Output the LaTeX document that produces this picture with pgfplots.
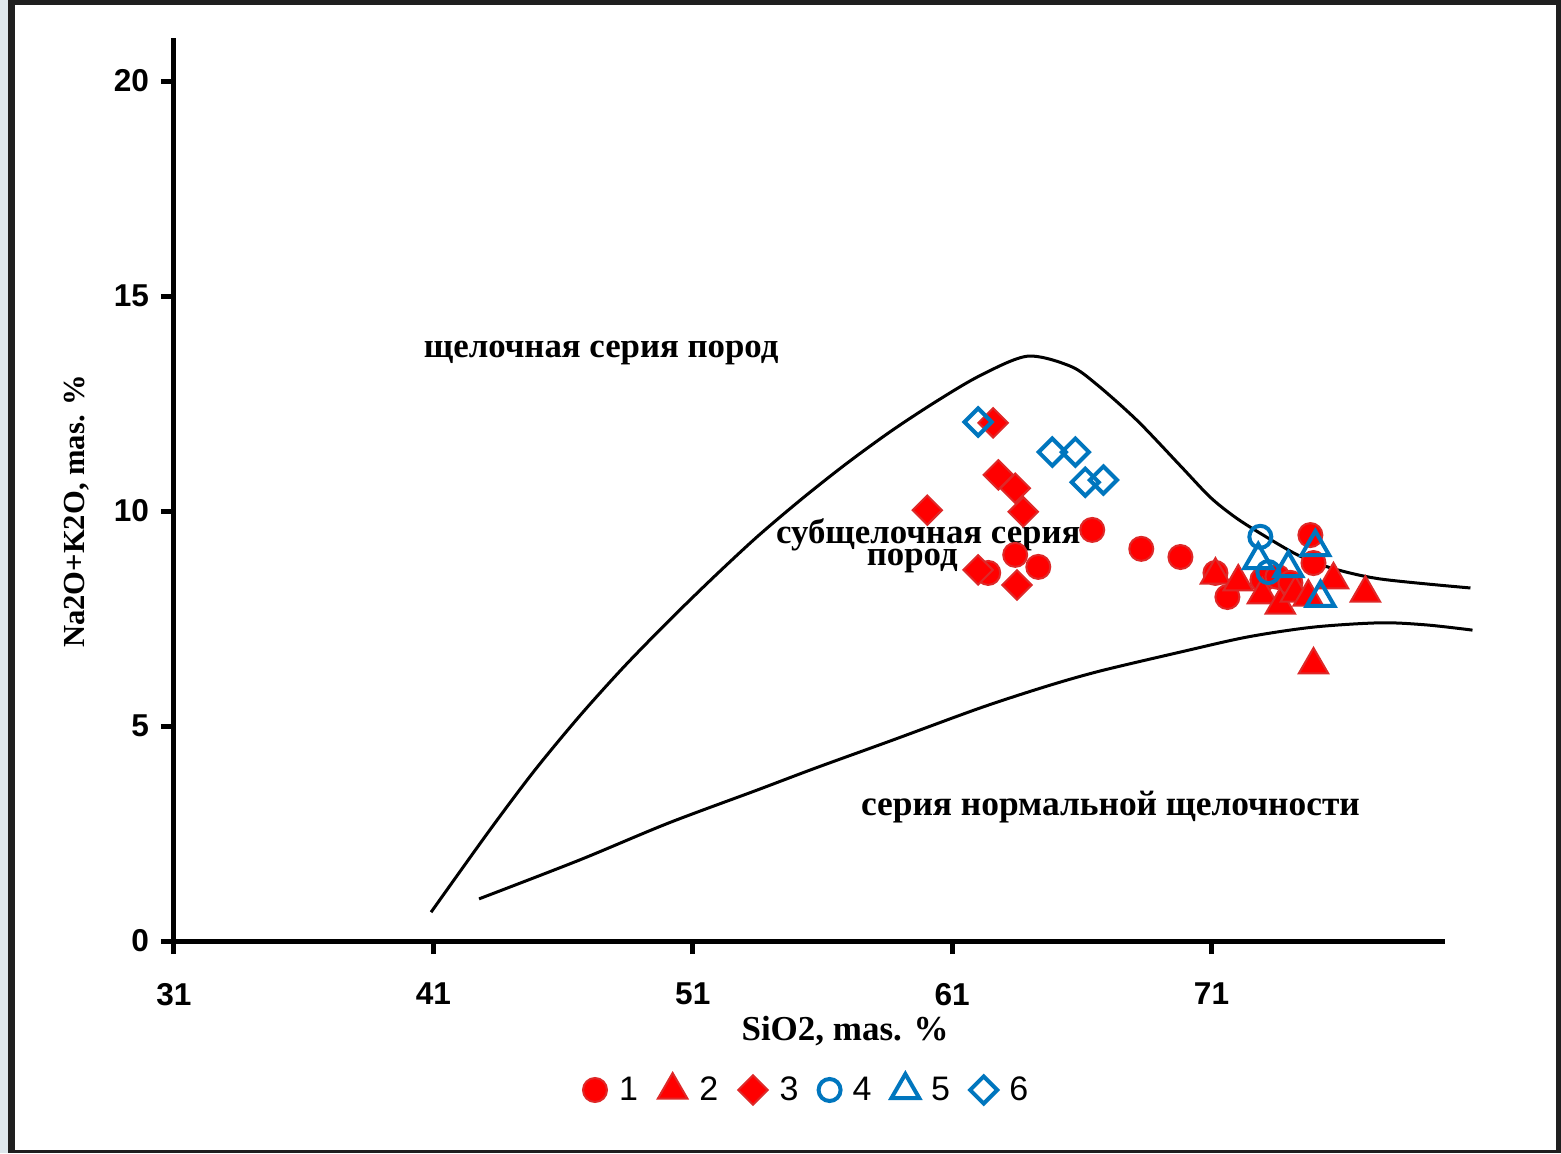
\documentclass[border=0pt]{standalone}
\usepackage{fontspec}
\setmainfont{Liberation Serif}
\setsansfont{Liberation Sans}
\usepackage{pgfplots}
\pgfplotsset{compat=1.18}
\definecolor{myred}{RGB}{255,0,0}
\definecolor{myredE}{RGB}{222,40,40}
\definecolor{myblue}{RGB}{0,118,190}
\definecolor{bgside}{RGB}{222,231,236}
\newcommand\tightlines{\lineskiplimit-30pt\relax}
\begin{document}
\begin{tikzpicture}
\path[use as bounding box] (-87pt,-106pt) rectangle (693.5pt,470.5pt);
\fill[bgside] (-87pt,-106pt) rectangle (693.5pt,470.5pt);
\fill[black!88] (-83pt,-106pt) rectangle (693.5pt,470.5pt);
\fill[white] (-79.5pt,-104.5pt) rectangle (691pt,468pt);
\begin{axis}[
  at={(0pt,0pt)}, anchor=south west,
  scale only axis, width=635.5pt, height=451.5pt,
  xmin=31, xmax=80, ymin=0, ymax=21,
  axis lines=left,
  axis line style={line width=2.5pt,-},
  xtick={31,41,51,61,71}, ytick={0,5,10,15,20},
  tick align=outside, major tick length=6.5pt,
  tick style={line width=2.5pt,black},
  /pgf/number format/assume math mode=true,
  ticklabel style={font=\sffamily\bfseries\fontsize{15.8}{16}\selectfont},
  xticklabel style={yshift=-11pt},
  yticklabel style={xshift=-2.5pt},
  clip=false,
  xlabel={SiO2, mas. \%}, ylabel={Na2O+K2O, mas. \%},
  x label style={at={(axis description cs:0.528,-0.0997)}, anchor=center, font=\bfseries\fontsize{17.5}{18}\selectfont},
  y label style={at={(axis description cs:-0.0763,0.476)}, anchor=center, font=\bfseries\fontsize{15.3}{16}\selectfont},
  legend columns=6,
  legend style={at={(axis description cs:0.4985,-0.165)}, anchor=center, draw=none, fill=none,
    font=\sffamily\fontsize{17}{17}\selectfont,
    /tikz/every odd column/.append style={column sep=4pt},
    /tikz/every even column/.append style={column sep=8pt}},
]
% boundary curves
\addplot[black, line width=1.5pt, smooth, forget plot] coordinates {
(40.91,0.67) (43.15,2.56) (44.88,3.95) (46.62,5.22) (48.32,6.36) (50.05,7.43)
(51.75,8.43) (53.48,9.40) (55.22,10.29) (56.92,11.10) (58.65,11.86) (60.39,12.55)
(62.08,13.15) (63.9,13.60) (65.55,13.37) (66.56,12.95) (68.14,12.10) (69.80,11.05)
(70.95,10.32) (71.9,9.86) (72.88,9.48) (74.31,8.98) (75.58,8.68) (77.5,8.42) (80.98,8.21)};
\addplot[black, line width=1.5pt, smooth, forget plot] coordinates {
(42.76,0.98) (46.62,1.88) (50.05,2.74) (53.48,3.51) (55.72,4.02) (58.65,4.66)
(62.08,5.42) (64.67,5.93) (66.71,6.28) (69.80,6.72) (72.38,7.07) (74.93,7.30)
(77.51,7.40) (79.3,7.35) (81.06,7.23)};
% series 1
\addplot[only marks, mark=*, mark size=6pt, mark options={fill=myred, draw=myredE, line width=1pt}] coordinates {
(62.39,8.56) (63.43,8.98) (64.32,8.70) (66.40,9.56) (68.29,9.12) (69.80,8.93)
(71.15,8.56) (71.61,8.00) (72.96,8.40) (73.54,8.47) (74.04,8.33) (74.81,9.44) (74.93,8.79)};
\addlegendentry{1}
% series 2
\addplot[only marks, mark=triangle*, mark size=8.5pt, mark options={fill=myred, draw=myredE, line width=1pt}] coordinates {
(71.15,8.51) (72.03,8.35) (72.96,8.05) (73.65,7.81) (74.23,8.09) (74.73,8.00)
(75.70,8.40) (76.93,8.09) (74.93,6.42)};
\addlegendentry{2}
% series 3
\addplot[only marks, mark=square*, mark size=5.2pt, mark options={rotate=45, fill=myred, draw=myredE, line width=1pt}] coordinates {
(62.58,12.05) (60.04,10.02) (62.78,10.84) (63.43,10.53) (63.74,9.98) (62.00,8.63) (63.50,8.28)};
\addlegendentry{3}
% series 4
\addplot[only marks, mark=o, mark size=5.5pt, mark options={draw=myblue, line width=2pt}] coordinates {
(72.88,9.40) (73.19,8.58)};
\addlegendentry{4}
% series 5
\addplot[only marks, mark=triangle, mark size=8pt, mark options={draw=myblue, line width=2pt}] coordinates {
(72.80,8.86) (73.96,8.67) (75.00,9.16) (75.20,7.98)};
\addlegendentry{5}
% series 6
\addplot[only marks, mark=square, mark size=4.8pt, mark options={rotate=45, draw=myblue, line width=2pt}] coordinates {
(62.00,12.07) (64.86,11.37) (65.75,11.37) (66.13,10.67) (66.83,10.72)};
\addlegendentry{6}
% region labels
\node[anchor=base, font=\bfseries\fontsize{17.4}{17}\selectfont] at (axis cs:47.47,13.56) {щелочная серия пород};
\node[anchor=center, align=center, inner sep=0pt,
      font=\bfseries\fontsize{17.4}{11}\selectfont\tightlines]
      at (axis cs:60.08,9.19) {субщелочная серия\\пород\hspace*{16pt}};
\node[anchor=base, font=\bfseries\fontsize{17.7}{17}\selectfont] at (axis cs:67.10,2.93) {серия нормальной щелочности};
\end{axis}
\end{tikzpicture}
\end{document}
